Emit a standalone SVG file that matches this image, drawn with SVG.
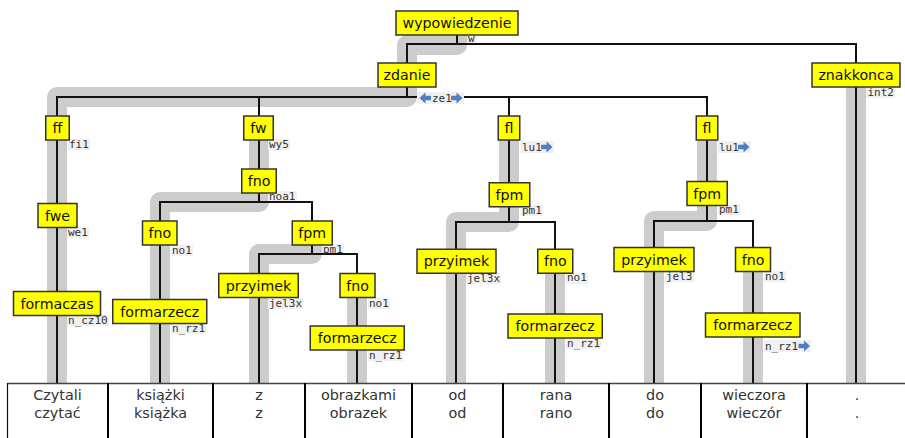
<svg xmlns="http://www.w3.org/2000/svg" xmlns:xlink="http://www.w3.org/1999/xlink" width="905" height="438" viewBox="0 0 905 438">
<defs>
<style>
.band{fill:none;stroke:#cccccc;stroke-width:20;stroke-linejoin:round;stroke-linecap:round}
.edge{fill:none;stroke:#111;stroke-width:2}
.box{fill:#ffff00;stroke:#333;stroke-width:1.5}
.nt{font-family:"DejaVu Sans","Noto Sans",sans-serif;font-size:14.2px;fill:#111;text-anchor:middle}
.lb{font-family:"DejaVu Sans Mono","Liberation Mono",monospace;font-size:11px;fill:#333}
.lbg{fill:#f0f0f0}
.tt{font-family:"DejaVu Sans","Noto Sans",sans-serif;font-size:14.4px;fill:#333;text-anchor:middle}
.div{stroke:#000;stroke-width:2}
</style>
<path id="ar" d="M0,-2.3 H5.5 V-5.5 L11.5,0 L5.5,5.5 V2.3 H0 Z" fill="#4f7fbf"/>
</defs>
<rect width="905" height="438" fill="#fff"/>
<g id="bands">
<path class="band" d="M457,23 V45 H407 V97 H57 V383"/>
<path class="band" d="M259,128 V202 H160 V383"/>
<path class="band" d="M312,233 V254 H259 V383"/>
<path class="band" d="M357,285 V383"/>
<path class="band" d="M509,128 V222 H456 V383"/>
<path class="band" d="M555,261 V383"/>
<path class="band" d="M707,128 V221 H654 V383"/>
<path class="band" d="M753,259 V383"/>
<path class="band" d="M856,75 V383"/>
</g>
<g id="connectors">
<path class="edge" d="M457,23 V44 M407,75 V44 H856 V75"/>
<path class="edge" d="M407,75 V97 M57,128 V97 H707 V128 M259,97 V128 M509,97 V128"/>
<path class="edge" d="M57,128 V383"/>
<path class="edge" d="M259,128 V202 M160,233 V202 H312 V233 M160,233 V383"/>
<path class="edge" d="M312,233 V254 M259,285 V254 H357 V285 M259,285 V383 M357,285 V383"/>
<path class="edge" d="M509,128 V222 M456,261 V222 H555 V261 M456,261 V383 M555,261 V383"/>
<path class="edge" d="M707,128 V221 M654,259 V221 H753 V259 M654,259 V383 M753,259 V383"/>
<path class="edge" d="M856,75 V383"/>
</g>
<g id="labels">
<rect class="lbg" x="467" y="34" width="9" height="9"/><text class="lb" x="468" y="41.5">w</text>
<rect class="lbg" x="417" y="92" width="47" height="12"/>
<use xlink:href="#ar" transform="translate(431,98) scale(-1,1)"/>
<text class="lb" x="432" y="102">ze1</text>
<use xlink:href="#ar" transform="translate(451,98)"/>
<rect class="lbg" x="68" y="139" width="22" height="11"/><text class="lb" x="69" y="148">fi1</text>
<rect class="lbg" x="268" y="139" width="22" height="11"/><text class="lb" x="269" y="148">wy5</text>
<rect class="lbg" x="521" y="141" width="33" height="12"/><text class="lb" x="522" y="151">lu1</text><use xlink:href="#ar" transform="translate(541,147)"/>
<rect class="lbg" x="718" y="141" width="33" height="12"/><text class="lb" x="719" y="151">lu1</text><use xlink:href="#ar" transform="translate(738,147)"/>
<rect class="lbg" x="866" y="87" width="29" height="11"/><text class="lb" x="867.5" y="95.5">int2</text>
<rect class="lbg" x="67" y="227" width="22" height="11"/><text class="lb" x="68" y="235.5">we1</text>
<rect class="lbg" x="268" y="191" width="29" height="10"/><text class="lb" x="269" y="200">noa1</text>
<rect class="lbg" x="171" y="245" width="22" height="11"/><text class="lb" x="172" y="253.5">no1</text>
<rect class="lbg" x="322" y="244" width="22" height="9"/><text class="lb" x="323" y="252.5">pm1</text>
<rect class="lbg" x="268" y="298" width="35" height="11"/><text class="lb" x="269" y="306.5">jel3x</text>
<rect class="lbg" x="368" y="298" width="22" height="11"/><text class="lb" x="369" y="306.5">no1</text>
<rect class="lbg" x="67" y="315" width="42" height="11"/><text class="lb" x="68" y="323.5">n_cz10</text>
<rect class="lbg" x="171" y="323" width="35" height="11"/><text class="lb" x="172" y="331.5">n_rz1</text>
<rect class="lbg" x="368" y="350" width="35" height="11"/><text class="lb" x="369" y="358.5">n_rz1</text>
<rect class="lbg" x="521" y="205" width="22" height="11"/><text class="lb" x="522" y="214">pm1</text>
<rect class="lbg" x="466" y="273" width="35" height="11"/><text class="lb" x="467" y="281.5">jel3x</text>
<rect class="lbg" x="566" y="273" width="22" height="11"/><text class="lb" x="567" y="281">no1</text>
<rect class="lbg" x="566" y="338" width="35" height="11"/><text class="lb" x="567" y="347">n_rz1</text>
<rect class="lbg" x="718" y="204" width="22" height="11"/><text class="lb" x="719" y="213">pm1</text>
<rect class="lbg" x="665" y="271" width="29" height="11"/><text class="lb" x="666" y="280">jel3</text>
<rect class="lbg" x="764" y="271" width="22" height="11"/><text class="lb" x="765" y="279.5">no1</text>
<rect class="lbg" x="764" y="340" width="47" height="12"/><text class="lb" x="765" y="350">n_rz1</text><use xlink:href="#ar" transform="translate(798.5,346)"/>
</g>
<g id="n-wypowiedzenie"><rect class="box" x="396" y="11" width="122" height="24"/><text class="nt" x="457" y="28">wypowiedzenie</text></g>
<g id="n-zdanie"><rect class="box" x="378" y="63" width="58" height="24"/><text class="nt" x="407" y="80">zdanie</text></g>
<g id="n-znakkonca"><rect class="box" x="812" y="63" width="88" height="24"/><text class="nt" x="856" y="80">znakkonca</text></g>
<g id="n-ff"><rect class="box" x="45.75" y="116" width="23.5" height="24"/><text class="nt" x="57.5" y="133">ff</text></g>
<g id="n-fw"><rect class="box" x="243.75" y="116" width="29.5" height="24"/><text class="nt" x="258.5" y="133">fw</text></g>
<g id="n-fl1"><rect class="box" x="498.25" y="116" width="21.5" height="24"/><text class="nt" x="509" y="133">fl</text></g>
<g id="n-fl2"><rect class="box" x="696.25" y="116" width="21.5" height="24"/><text class="nt" x="707" y="133">fl</text></g>
<g id="n-fwe"><rect class="box" x="38" y="203.5" width="39" height="24"/><text class="nt" x="57.5" y="220.5">fwe</text></g>
<g id="n-formaczas"><rect class="box" x="13.5" y="291.5" width="87" height="24"/><text class="nt" x="57" y="308.5">formaczas</text></g>
<g id="n-fno1"><rect class="box" x="241.75" y="169" width="34.5" height="24"/><text class="nt" x="259" y="186">fno</text></g>
<g id="n-fno2"><rect class="box" x="142.5" y="221" width="34.5" height="24"/><text class="nt" x="159.75" y="238">fno</text></g>
<g id="n-fpm1"><rect class="box" x="292.25" y="221" width="40" height="24"/><text class="nt" x="312.25" y="238">fpm</text></g>
<g id="n-przyimek1"><rect class="box" x="218.75" y="273.5" width="79.5" height="24"/><text class="nt" x="258.5" y="290.5">przyimek</text></g>
<g id="n-fno3"><rect class="box" x="340" y="273.5" width="35" height="24"/><text class="nt" x="357.5" y="290.5">fno</text></g>
<g id="n-formarzecz1"><rect class="box" x="112.75" y="299.5" width="94" height="24"/><text class="nt" x="159.75" y="316.5">formarzecz</text></g>
<g id="n-formarzecz2"><rect class="box" x="310.25" y="326" width="94" height="24"/><text class="nt" x="357.25" y="343">formarzecz</text></g>
<g id="n-fpm2"><rect class="box" x="489.25" y="182.75" width="40.5" height="24"/><text class="nt" x="509.5" y="199.75">fpm</text></g>
<g id="n-przyimek2"><rect class="box" x="417" y="249.25" width="79" height="24"/><text class="nt" x="456.5" y="266.25">przyimek</text></g>
<g id="n-fno4"><rect class="box" x="537.75" y="249.25" width="35" height="24"/><text class="nt" x="555.25" y="266.25">fno</text></g>
<g id="n-formarzecz3"><rect class="box" x="508" y="314" width="94.25" height="24"/><text class="nt" x="555.1" y="331">formarzecz</text></g>
<g id="n-fpm3"><rect class="box" x="687" y="181.5" width="40.25" height="24"/><text class="nt" x="707.1" y="198.5">fpm</text></g>
<g id="n-przyimek3"><rect class="box" x="614" y="247.5" width="80" height="24"/><text class="nt" x="654" y="264.5">przyimek</text></g>
<g id="n-fno5"><rect class="box" x="735.5" y="247.5" width="35" height="24"/><text class="nt" x="753" y="264.5">fno</text></g>
<g id="n-formarzecz4"><rect class="box" x="705.5" y="313" width="94.5" height="24"/><text class="nt" x="752.75" y="330">formarzecz</text></g>
<g id="table">
<rect x="7.5" y="383.5" width="905" height="60" fill="#fff" stroke="none"/>
<line x1="7.5" y1="383.5" x2="905" y2="383.5" stroke="#444" stroke-width="1.3"/>
<line x1="7.5" y1="383" x2="7.5" y2="438" stroke="#111" stroke-width="1.2"/>
<line class="div" x1="108" y1="383" x2="108" y2="438"/>
<line class="div" x1="213" y1="383" x2="213" y2="438"/>
<line class="div" x1="305" y1="383" x2="305" y2="438"/>
<line class="div" x1="412" y1="383" x2="412" y2="438"/>
<line class="div" x1="503" y1="383" x2="503" y2="438"/>
<line class="div" x1="609" y1="383" x2="609" y2="438"/>
<line class="div" x1="701" y1="383" x2="701" y2="438"/>
<line class="div" x1="807" y1="383" x2="807" y2="438"/>
<text class="tt" x="57.5" y="400">Czytali</text><text class="tt" x="57.5" y="418">czytać</text>
<text class="tt" x="160.5" y="400">książki</text><text class="tt" x="160.5" y="418">książka</text>
<text class="tt" x="259" y="400">z</text><text class="tt" x="259" y="418">z</text>
<text class="tt" x="358.5" y="400">obrazkami</text><text class="tt" x="358.5" y="418">obrazek</text>
<text class="tt" x="457.5" y="400">od</text><text class="tt" x="457.5" y="418">od</text>
<text class="tt" x="556" y="400">rana</text><text class="tt" x="556" y="418">rano</text>
<text class="tt" x="655" y="400">do</text><text class="tt" x="655" y="418">do</text>
<text class="tt" x="754" y="400">wieczora</text><text class="tt" x="754" y="418">wieczór</text>
<text class="tt" x="857" y="400">.</text><text class="tt" x="857" y="418">.</text>
</g>
</svg>
